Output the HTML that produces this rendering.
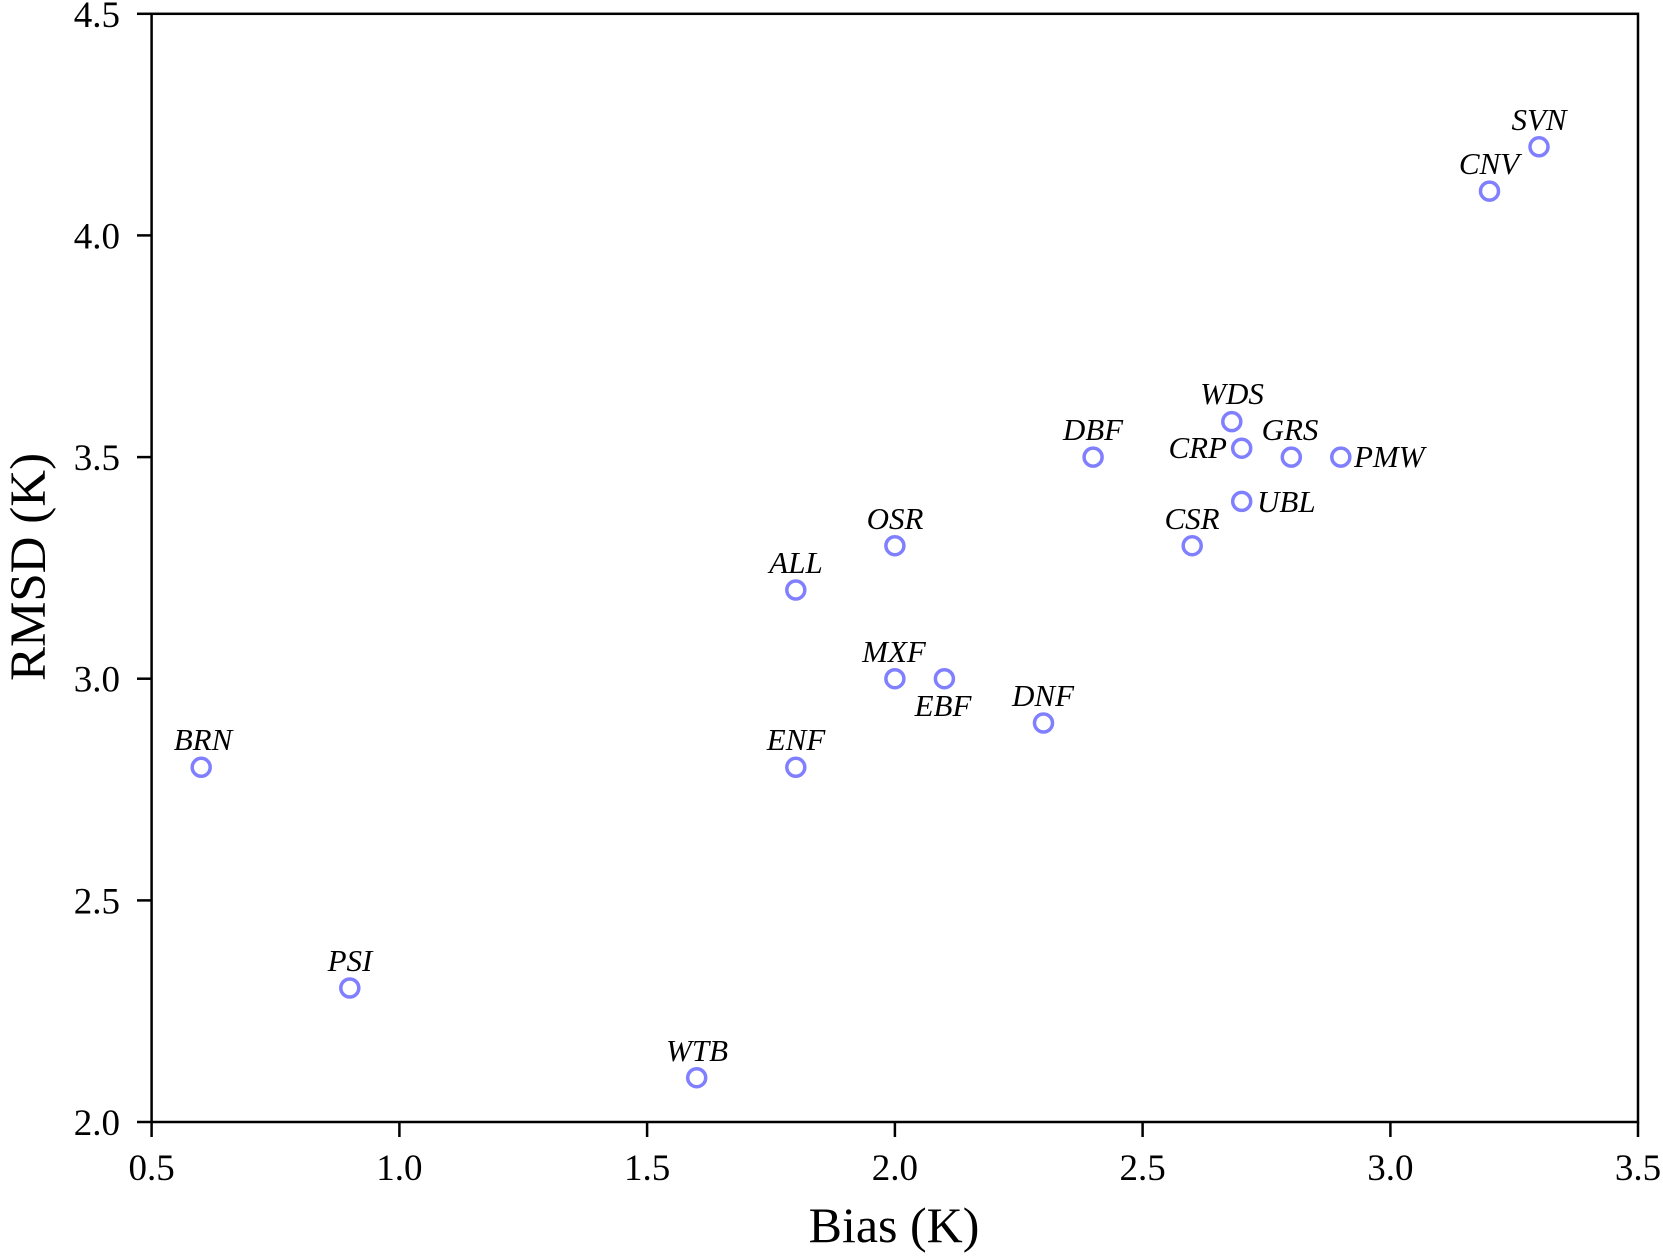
<!DOCTYPE html>
<html><head><meta charset="utf-8"><style>
html,body{margin:0;padding:0;background:#fff;}
svg{display:block;}
text{font-family:"Liberation Serif",serif;fill:#000;}
.t{font-size:37px;}
.l{font-size:31px;font-style:italic;}
.m{fill:none;stroke:#7f7fff;stroke-width:3.5;}
</style></head><body>
<svg width="1663" height="1256" viewBox="0 0 1663 1256" xmlns="http://www.w3.org/2000/svg">
<rect x="151.6" y="13.8" width="1486.4" height="1108.2" fill="none" stroke="#000" stroke-width="2.5"/>
<g stroke="#000" stroke-width="2.5">
<line x1="151.6" y1="1122" x2="151.6" y2="1137"/>
<line x1="399.4" y1="1122" x2="399.4" y2="1137"/>
<line x1="647.1" y1="1122" x2="647.1" y2="1137"/>
<line x1="894.9" y1="1122" x2="894.9" y2="1137"/>
<line x1="1142.6" y1="1122" x2="1142.6" y2="1137"/>
<line x1="1390.4" y1="1122" x2="1390.4" y2="1137"/>
<line x1="1638" y1="1122" x2="1638" y2="1137"/>
<line x1="137" y1="1122" x2="151.6" y2="1122"/>
<line x1="137" y1="900.4" x2="151.6" y2="900.4"/>
<line x1="137" y1="678.7" x2="151.6" y2="678.7"/>
<line x1="137" y1="457.1" x2="151.6" y2="457.1"/>
<line x1="137" y1="235.4" x2="151.6" y2="235.4"/>
<line x1="137" y1="13.8" x2="151.6" y2="13.8"/>
</g>
<g class="t" text-anchor="middle">
<text x="151.6" y="1180">0.5</text>
<text x="399.4" y="1180">1.0</text>
<text x="647.1" y="1180">1.5</text>
<text x="894.9" y="1180">2.0</text>
<text x="1142.6" y="1180">2.5</text>
<text x="1390.4" y="1180">3.0</text>
<text x="1638" y="1180">3.5</text>
</g>
<g class="t" text-anchor="end">
<text x="120" y="1135">2.0</text>
<text x="120" y="913.4">2.5</text>
<text x="120" y="691.7">3.0</text>
<text x="120" y="470.1">3.5</text>
<text x="120" y="248.4">4.0</text>
<text x="120" y="26.8">4.5</text>
</g>
<text x="894" y="1242" text-anchor="middle" font-size="50">Bias (K)</text>
<text transform="translate(45,567) rotate(-90)" text-anchor="middle" font-size="51">RMSD (K)</text>
<g class="m">
<circle cx="201.2" cy="767.3" r="9"/>
<circle cx="349.8" cy="988" r="9"/>
<circle cx="696.7" cy="1077.7" r="9"/>
<circle cx="795.8" cy="767.3" r="9"/>
<circle cx="795.8" cy="590" r="9"/>
<circle cx="894.9" cy="678.7" r="9"/>
<circle cx="894.9" cy="545.7" r="9"/>
<circle cx="944.4" cy="678.7" r="9"/>
<circle cx="1043.5" cy="723" r="9"/>
<circle cx="1093.1" cy="457.1" r="9"/>
<circle cx="1192.2" cy="545.7" r="9"/>
<circle cx="1231.8" cy="421.6" r="9"/>
<circle cx="1241.7" cy="448.2" r="9"/>
<circle cx="1291.3" cy="457.1" r="9"/>
<circle cx="1340.8" cy="457.1" r="9"/>
<circle cx="1241.7" cy="501.4" r="9"/>
<circle cx="1489.5" cy="191.1" r="9"/>
<circle cx="1539" cy="146.8" r="9"/>
</g>
<g class="l" text-anchor="middle">
<text x="203" y="750">BRN</text>
<text x="350" y="971">PSI</text>
<text x="697" y="1061">WTB</text>
<text x="796" y="750">ENF</text>
<text x="796" y="573">ALL</text>
<text x="894" y="662">MXF</text>
<text x="895" y="529">OSR</text>
<text x="943" y="716">EBF</text>
<text x="1043" y="706">DNF</text>
<text x="1093" y="440">DBF</text>
<text x="1192" y="529">CSR</text>
<text x="1232" y="404">WDS</text>
<text x="1290" y="440">GRS</text>
<text x="1489" y="174">CNV</text>
<text x="1539" y="130">SVN</text>
</g>
<text class="l" x="1227" y="458" text-anchor="end">CRP</text>
<text class="l" x="1354" y="467">PMW</text>
<text class="l" x="1257" y="512">UBL</text>
</svg>
</body></html>
